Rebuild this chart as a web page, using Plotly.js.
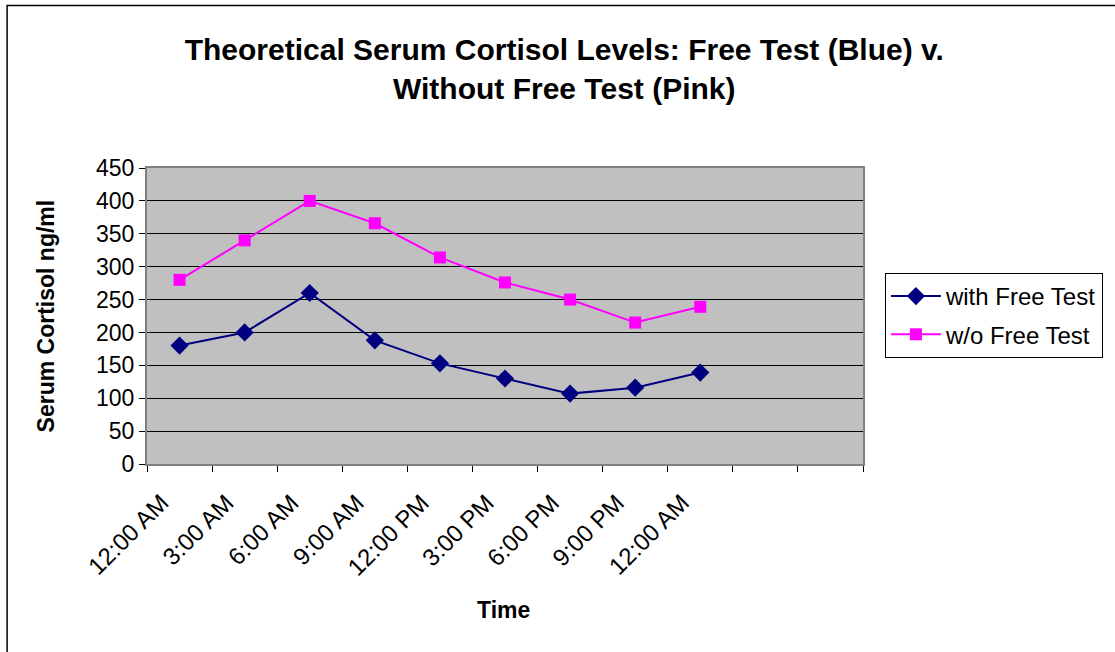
<!DOCTYPE html>
<html>
<head>
<meta charset="utf-8">
<script src="https://cdn.plot.ly/plotly-3.0.1.min.js"></script>
<style>html,body{margin:0;padding:0;background:#fff;}#chart{width:1115px;height:652px;}</style>
</head>
<body>
<div id="chart"></div>
<script>
// Category slots on the time axis (last two slots are empty in the original)
const timeLabels = ["12:00 AM","3:00 AM","6:00 AM","9:00 AM","12:00 PM","3:00 PM","6:00 PM","9:00 PM","12:00 AM","",""];
const withFreeTest = [180, 200, 260, 188, 153, 130, 107, 116, 139];
const withoutFreeTest = [280, 340, 400, 366, 314, 276, 250, 215, 239];
const seriesNames = ["with Free Test", "w/o Free Test"];
const yTicks = [0, 50, 100, 150, 200, 250, 300, 350, 400, 450];

const FONT = "Arial, 'Liberation Sans', sans-serif";
const nCat = timeLabels.length;
const xIdx = withFreeTest.map((_, i) => i + 1);
const boundaries = Array.from({length: nCat + 1}, (_, i) => i + 0.5);
const labelled = timeLabels.map((t, i) => ({t, v: i + 1})).filter(o => o.t !== "");

const traces = [
  {
    x: xIdx, y: withFreeTest, name: seriesNames[0], type: "scatter", mode: "lines+markers",
    legendgroup: "a",
    line: {color: "#000080", width: 2},
    marker: {symbol: "diamond", size: 14, color: "#000080"},
    xaxis: "x", yaxis: "y"
  },
  {
    x: xIdx, y: withoutFreeTest, name: seriesNames[1], type: "scatter", mode: "lines+markers",
    legendgroup: "b",
    line: {color: "#FF00FF", width: 2},
    marker: {symbol: "square", size: 12, color: "#FF00FF"},
    xaxis: "x", yaxis: "y"
  },
  // invisible trace to activate the labelled overlay axis
  {x: [1], y: [null], xaxis: "x2", yaxis: "y", showlegend: false, hoverinfo: "skip", type: "scatter", mode: "markers"}
];

const L = 147, R = 249, T = 168, B = 188, W = 1115, H = 652;
const pw = W - L - R, ph = H - T - B;

const layout = {
  width: W, height: H,
  margin: {l: L, r: R, t: T, b: B, pad: 0},
  paper_bgcolor: "#ffffff",
  plot_bgcolor: "#C0C0C0",
  font: {family: FONT, color: "#000", size: 23},
  title: {
    text: "<b>Theoretical Serum Cortisol Levels: Free Test (Blue) v.<br>Without Free Test (Pink)</b>",
    font: {family: FONT, size: 30, color: "#000"},
    xref: "paper", x: (566 - L) / pw, xanchor: "center",
    yref: "container", y: 1 - 60 / H, yanchor: "middle"
  },
  xaxis: {
    range: [0.5, nCat + 0.5],
    tickmode: "array", tickvals: boundaries, showticklabels: false,
    ticks: "outside", ticklen: 6, tickcolor: "#000", tickwidth: 1,
    showgrid: false, zeroline: false,
    showline: true, linecolor: "#808080", linewidth: 2, mirror: true,
    fixedrange: true
  },
  xaxis2: {
    overlaying: "x", matches: "x", range: [0.5, nCat + 0.5],
    tickmode: "array", tickvals: labelled.map(o => o.v), ticktext: labelled.map(o => o.t),
    tickangle: -45, ticks: "", showgrid: false, zeroline: false, showline: false,
    tickfont: {family: FONT, size: 24}, side: "bottom", anchor: "y",
    ticklabelstandoff: 19, ticklabelshift: -18
  },
  yaxis: {
    range: [0, 450], tickmode: "array", tickvals: yTicks,
    ticks: "outside", ticklen: 6, tickcolor: "#000", tickwidth: 1,
    showgrid: true, gridcolor: "#000", gridwidth: 1, zeroline: false,
    showline: true, linecolor: "#808080", linewidth: 2, mirror: true,
    tickfont: {family: FONT, size: 23}
  },
  annotations: [
    {text: "<b>Time</b>", xref: "paper", yref: "paper",
     x: (505 - L) / pw, y: (H - B - 610) / ph, xanchor: "center", yanchor: "middle",
     showarrow: false, font: {family: FONT, size: 23, color: "#000"}},
    {text: "<b>Serum Cortisol ng/ml</b>", xref: "paper", yref: "paper",
     x: (46 - L) / pw, y: 0.5, xanchor: "center", yanchor: "middle", textangle: -90,
     showarrow: false, font: {family: FONT, size: 23, color: "#000"}}
  ],
  legend: {
    x: (888 - L) / pw, xanchor: "left",
    y: (H - B - 273) / ph, yanchor: "top",
    bgcolor: "#ffffff", bordercolor: "#000", borderwidth: 1,
    font: {family: FONT, size: 24, color: "#000"},
    tracegroupgap: 4, itemwidth: 50
  },
  shapes: [
    {type: "rect", xref: "paper", yref: "paper",
     x0: (6.5 - L) / pw, x1: 1.5, y0: -1, y1: (H - B - 5.5) / ph,
     line: {color: "#000", width: 1.5}, fillcolor: "rgba(0,0,0,0)", layer: "below"}
  ],
  showlegend: true
};

Plotly.newPlot("chart", traces, layout, {displayModeBar: false, staticPlot: true});
</script>
</body>
</html>
